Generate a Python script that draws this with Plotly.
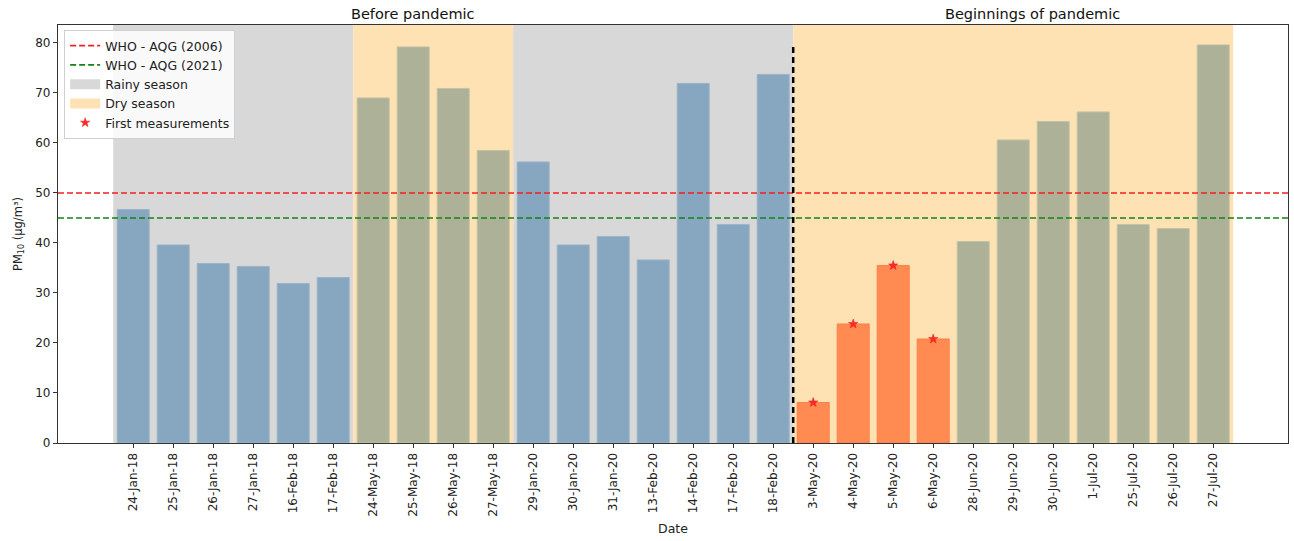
import plotly.graph_objects as go

# PM10 daily concentrations
dates = ["24-Jan-18", "25-Jan-18", "26-Jan-18", "27-Jan-18", "16-Feb-18", "17-Feb-18",
         "24-May-18", "25-May-18", "26-May-18", "27-May-18",
         "29-Jan-20", "30-Jan-20", "31-Jan-20", "13-Feb-20", "14-Feb-20", "17-Feb-20", "18-Feb-20",
         "3-May-20", "4-May-20", "5-May-20", "6-May-20",
         "28-Jun-20", "29-Jun-20", "30-Jun-20", "1-Jul-20", "25-Jul-20", "26-Jul-20", "27-Jul-20"]
pm10 = [46.7, 39.6, 35.9, 35.3, 31.9, 33.1,
        69.0, 79.2, 70.9, 58.5,
        56.2, 39.6, 41.3, 36.6, 71.9, 43.7, 73.7,
        8.1, 23.8, 35.5, 20.8,
        40.3, 60.6, 64.3, 66.2, 43.7, 42.9, 79.6]

# season of each measurement day
season = ["rainy"] * 6 + ["dry"] * 4 + ["rainy"] * 7 + ["dry"] * 11
# first measurements of the pandemic period
first_dates = ["3-May-20", "4-May-20", "5-May-20", "6-May-20"]

who_2006 = 50
who_2021 = 45

x = list(range(len(dates)))
first_idx = [dates.index(d) for d in first_dates]
first_vals = [pm10[i] for i in first_idx]

GRAY_BG = "#D8D8D8"
DRY_BG = "#FFE2B3"
BAR_ON_GRAY = "#87A6BF"
BAR_ON_DRY = "#ADB198"
FIRST_BAR = "#FF8A52"

bar_colors = []
bar_lines = []
for i, s in enumerate(season):
    if i in first_idx:
        bar_colors.append(FIRST_BAR)
        bar_lines.append("#FB8048")
    elif s == "rainy":
        bar_colors.append(BAR_ON_GRAY)
        bar_lines.append("#9DB4C7")
    else:
        bar_colors.append(BAR_ON_DRY)
        bar_lines.append("#C2C3A6")

# contiguous season spans
spans = []
start = 0
for i in range(1, len(season) + 1):
    if i == len(season) or season[i] != season[start]:
        spans.append((season[start], start - 0.5, i - 0.5))
        start = i

x_range = [-1.88, 28.87]
y_top = max(pm10) * 1.05

fig = go.Figure()

shapes = []
for s, x0, x1 in spans:
    shapes.append(dict(type="rect", xref="x", yref="paper", x0=x0, x1=x1, y0=0, y1=1,
                       fillcolor=GRAY_BG if s == "rainy" else DRY_BG,
                       line=dict(width=0), layer="below"))

# boundary between the two periods
split = first_idx[0] - 0.5
shapes.append(dict(type="line", xref="x", yref="paper", x0=split, x1=split, y0=0, y1=0.95,
                   line=dict(color="black", width=2.5, dash="6px,4px"), layer="above"))

fig.add_trace(go.Bar(x=x, y=pm10, width=0.8,
                     marker=dict(color=bar_colors, line=dict(color=bar_lines, width=1)),
                     showlegend=False, hoverinfo="x+y"))

fig.add_trace(go.Scatter(x=x_range, y=[who_2006, who_2006], mode="lines",
                         line=dict(color="#F41F1F", width=1.6, dash="6px,3px"),
                         name="WHO - AQG (2006)"))
fig.add_trace(go.Scatter(x=x_range, y=[who_2021, who_2021], mode="lines",
                         line=dict(color="#168216", width=1.6, dash="6px,3px"),
                         name="WHO - AQG (2021)"))

# legend swatches for the season backgrounds
fig.add_trace(go.Scatter(x=[None], y=[None], mode="lines",
                         line=dict(color=GRAY_BG, width=10), name="Rainy season"))
fig.add_trace(go.Scatter(x=[None], y=[None], mode="lines",
                         line=dict(color=DRY_BG, width=10), name="Dry season"))

fig.add_trace(go.Scatter(x=first_idx, y=first_vals, mode="markers",
                         marker=dict(symbol="star", size=7, color="#FF2A2A",
                                     line=dict(width=0.5, color="#E81010")),
                         name="First measurements"))

fig.update_layout(
    width=1294, height=541,
    margin=dict(l=58, r=6, t=25, b=98),
    paper_bgcolor="white", plot_bgcolor="white",
    font=dict(family="DejaVu Sans", size=12, color="#222222"),
    shapes=shapes,
    bargap=0.2,
    legend=dict(x=0.005, y=0.988, xanchor="left", yanchor="top",
                bgcolor="rgba(255,255,255,0.85)", bordercolor="#D0D0D0", borderwidth=1,
                font=dict(size=12.5), tracegroupgap=0, itemwidth=30),
    annotations=[
        dict(text="Before pandemic", xref="x", yref="paper", x=7, y=1, yanchor="bottom",
             yshift=1, showarrow=False, font=dict(size=14.5, color="#111111")),
        dict(text="Beginnings of pandemic", xref="x", yref="paper", x=22.47, y=1, yanchor="bottom",
             yshift=1, showarrow=False, font=dict(size=14.5, color="#111111")),
    ],
)

fig.update_xaxes(range=x_range, tickmode="array", tickvals=x, ticktext=dates,
                 tickangle=-90, ticks="outside", ticklen=4, tickcolor="#333",
                 showline=True, linecolor="#333", linewidth=1.2, mirror=True,
                 showgrid=False, zeroline=False,
                 title=dict(text="Date", font=dict(size=12.5), standoff=8))
fig.update_yaxes(range=[0, y_top], tickvals=[0, 10, 20, 30, 40, 50, 60, 70, 80],
                 ticks="outside", ticklen=4, tickcolor="#333",
                 showline=True, linecolor="#333", linewidth=1.2, mirror=True,
                 showgrid=False, zeroline=False,
                 title=dict(text="PM<sub>10</sub> (µg/m³)", font=dict(size=11.5), standoff=10))

fig.write_html("out.html")
